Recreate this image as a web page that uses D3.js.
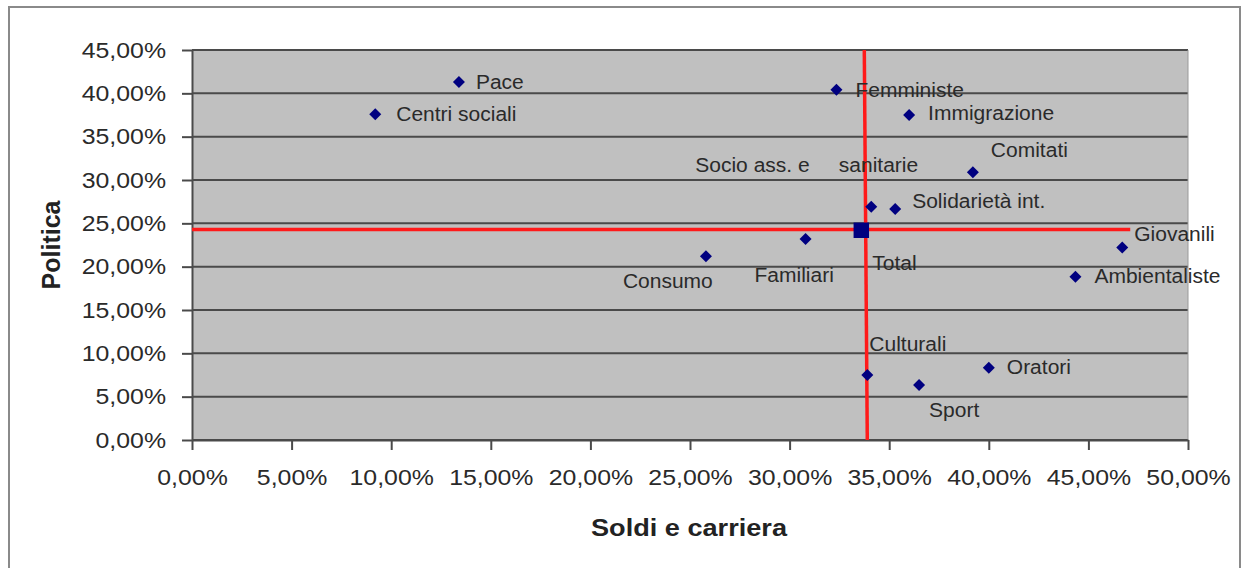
<!DOCTYPE html>
<html lang="en">
    <head>
        <meta charset="utf-8">
        <title>Politica vs Soldi e carriera</title>
        <script type="text/javascript" src="https://cdn.jsdelivr.net/npm/d3@7/dist/d3.min.js"></script>
        <style>
            body { margin: 0; background: #fff; }
            text { font-family: "Liberation Sans", Arial, sans-serif; }
        </style>
    </head>
    <body>
        <script type="text/javascript">
            var w = 1243;
            var h = 568;
            var margin = { top: 50, right: 55, bottom: 128, left: 192 };

            // values (percent)
            var categories = ["Pace", "Centri sociali", "Femministe", "Immigrazione", "Comitati",
                              "Socio ass. e     sanitarie", "Solidarietà int.", "Familiari", "Consumo",
                              "Giovanili", "Ambientaliste", "Culturali", "Oratori", "Sport"];
            var soldiCarriera = [13.4, 9.2, 32.35, 36.0, 39.2, 34.1, 35.3, 30.8, 25.8, 46.7, 44.35, 33.9, 40.0, 36.5];
            var politica = [41.3, 37.6, 40.4, 37.5, 30.9, 26.9, 26.65, 23.2, 21.2, 22.2, 18.85, 7.5, 8.35, 6.35];

            var totalLabel = "Total";
            var totalValue = [33.6, 24.2];

            // red reference lines [x1, y1, x2, y2]
            var refLines = [[33.75, 45, 33.9, 0], [0, 24.3, 47.1, 24.3]];

            var xTicks = [0, 5, 10, 15, 20, 25, 30, 35, 40, 45, 50];
            var yTicks = [0, 5, 10, 15, 20, 25, 30, 35, 40, 45];

            // label placement relative to the marker (px)
            var labelOffsets = [[17, 0], [21, 0], [19, 0], [19, -2], [18, -22], [-176, -42], [17, -8],
                                [-51, 36], [-83, 25], [12, -14], [19, -1], [2, -31], [18, -1], [10, 25]];
            var totalOffset = [11, 33];

            var fmt = function(d) { return d.toFixed(2).replace(".", ",") + "%"; };

            function stretch(sel, k) {
                sel.each(function() {
                    var len = this.getComputedTextLength();
                    this.setAttribute("textLength", len * k);
                    this.setAttribute("lengthAdjust", "spacingAndGlyphs");
                });
            }

            var xScale = d3.scaleLinear()
                           .domain([0, 50])
                           .range([margin.left, w - margin.right]);
            var yScale = d3.scaleLinear()
                           .domain([0, 45])
                           .range([h - margin.bottom, margin.top]);

            var svg = d3.select("body")
                        .append("svg")
                        .attr("width", w)
                        .attr("height", h);

            // outer chart border
            svg.append("rect")
               .attr("x", 9).attr("y", 7)
               .attr("width", 1231).attr("height", 600)
               .attr("fill", "none")
               .attr("stroke", "#8a8a8a")
               .attr("stroke-width", 2);

            // plot area
            svg.append("rect")
               .attr("x", xScale(0)).attr("y", yScale(45))
               .attr("width", xScale(50) - xScale(0))
               .attr("height", yScale(0) - yScale(45))
               .attr("fill", "#c0c0c0");

            svg.append("g")
               .selectAll("line")
               .data(yTicks)
               .enter()
               .append("line")
               .attr("x1", xScale(0)).attr("x2", xScale(50))
               .attr("y1", function(d) { return yScale(d); })
               .attr("y2", function(d) { return yScale(d); })
               .attr("stroke", "#4a4a4a")
               .attr("stroke-width", 2);

            svg.append("line")
               .attr("x1", xScale(50)).attr("x2", xScale(50))
               .attr("y1", yScale(45)).attr("y2", yScale(0))
               .attr("stroke", "#9a9a9a")
               .attr("stroke-width", 1);

            var xAxis = d3.axisBottom(xScale)
                          .tickValues(xTicks)
                          .tickFormat(fmt)
                          .tickSize(10)
                          .tickSizeOuter(0)
                          .tickPadding(19);
            var yAxis = d3.axisLeft(yScale)
                          .tickValues(yTicks)
                          .tickFormat(fmt)
                          .tickSize(10)
                          .tickSizeOuter(0)
                          .tickPadding(16);

            var gx = svg.append("g")
               .attr("transform", "translate(0," + yScale(0) + ")")
               .call(xAxis);
            var gy = svg.append("g")
               .attr("transform", "translate(" + xScale(0) + ",0)")
               .call(yAxis);

            [gx, gy].forEach(function(g) {
                g.select(".domain").attr("stroke", "#4a4a4a").attr("stroke-width", 2);
                g.selectAll(".tick line").attr("stroke", "#4a4a4a").attr("stroke-width", 2);
                g.selectAll(".tick text")
                 .attr("fill", "#2a2a2a")
                 .style("font-size", "22px")
                 .style("font-family", "'Liberation Sans', Arial, sans-serif");
                stretch(g.selectAll(".tick text"), 1.13);
            });

            // red reference lines
            svg.selectAll(".ref")
               .data(refLines)
               .enter()
               .append("line")
               .attr("class", "ref")
               .attr("x1", function(d) { return xScale(d[0]); })
               .attr("y1", function(d) { return yScale(d[1]); })
               .attr("x2", function(d) { return xScale(d[2]); })
               .attr("y2", function(d) { return yScale(d[3]); })
               .attr("stroke", "#ff1a1a")
               .attr("stroke-width", 3.5);

            var points = categories.map(function(c, i) {
                return { name: c, x: soldiCarriera[i], y: politica[i], off: labelOffsets[i] };
            });

            // labels (drawn over the lines, as in the source)
            var labels = svg.selectAll(".lbl")
               .data(points)
               .enter()
               .append("text")
               .attr("class", "lbl")
               .attr("x", function(d) { return xScale(d.x) + d.off[0]; })
               .attr("y", function(d) { return yScale(d.y) + d.off[1]; })
               .attr("dy", "0.35em")
               .attr("fill", "#2a2a2a")
               .style("font-size", "20px")
               .style("white-space", "pre")
               .text(function(d) { return d.name; });
            stretch(labels, 1.05);

            var tl = svg.append("text")
               .attr("x", xScale(totalValue[0]) + totalOffset[0])
               .attr("y", yScale(totalValue[1]) + totalOffset[1])
               .attr("dy", "0.35em")
               .attr("fill", "#2a2a2a")
               .style("font-size", "20px")
               .text(totalLabel);
            stretch(tl, 1.05);

            svg.selectAll(".pt")
               .data(points)
               .enter()
               .append("path")
               .attr("class", "pt")
               .attr("d", d3.symbol().type(d3.symbolSquare).size(72))
               .attr("transform", function(d) {
                   return "translate(" + xScale(d.x) + "," + yScale(d.y) + ") rotate(45)";
               })
               .attr("fill", "#000080");

            svg.append("path")
               .attr("d", d3.symbol().type(d3.symbolSquare).size(240))
               .attr("transform", "translate(" + xScale(totalValue[0]) + "," + yScale(totalValue[1]) + ")")
               .attr("fill", "#000080");

            // axis titles
            var xt = svg.append("text")
               .attr("x", (xScale(0) + xScale(50)) / 2 - 1)
               .attr("y", 528)
               .attr("dy", "0.35em")
               .style("text-anchor", "middle")
               .style("font-size", "24px")
               .style("font-weight", "bold")
               .attr("fill", "#222")
               .text("Soldi e carriera");
            stretch(xt, 1.13);

            svg.append("text")
               .attr("transform", "translate(51,245) rotate(-90)")
               .attr("dy", "0.35em")
               .style("text-anchor", "middle")
               .style("font-size", "25px")
               .style("font-weight", "bold")
               .attr("fill", "#222")
               .text("Politica");
        </script>
    </body>
</html>
